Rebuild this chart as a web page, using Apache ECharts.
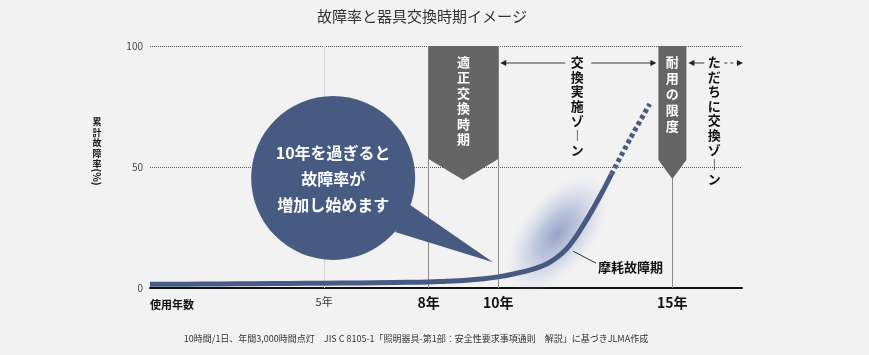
<!DOCTYPE html>
<html><head><meta charset="utf-8">
<script src="https://cdn.jsdelivr.net/npm/echarts@6/dist/echarts.min.js"></script>
<style>html,body{margin:0;padding:0;background:#f2f2f2}#c{width:869px;height:355px}</style>
</head><body><div id="c"></div>
<script>
// ---- data ----
const years = [0, 1, 2, 3, 4, 5, 6, 7, 8, 8.5, 9, 9.5, 10, 10.5, 11, 11.5, 12, 12.5, 13, 13.25];
const failureRate = [1.5, 1.6, 1.7, 1.8, 1.9, 2.0, 2.1, 2.3, 2.5, 2.8, 3.1, 3.7, 4.6, 6.0, 7.8, 10.8, 16.8, 27.3, 40, 47];
const projYears = [13.25, 13.8, 14.35];
const projRate = [47, 62, 76];
const xTickLabels = { 5: '5年', 8: '8年', 10: '10年', 15: '15年' };
const boldTicks = [8, 10, 15];
const guideYears = [5, 8, 10, 15];
const yTicks = [0, 50, 100];
const titleText = '故障率と器具交換時期イメージ';
const yName = ['累', '計', '故', '障', '率'];
const yUnit = '(%)';
const xName = '使用年数';
const bubbleLines = ['10年を過ぎると', '故障率が', '増加し始めます'];
const banner1Text = '適正交換時期';
const banner2Text = '耐用の限度';
const zone1Text = ['交', '換', '実', '施', 'ゾ', '︱', 'ン'];
const zone2Text = ['た', 'だ', 'ち', 'に', '交', '換', 'ゾ', '︱', 'ン'];
const wearText = '摩耗故障期';
const footText = '10時間/1日、年間3,000時間点灯　JIS C 8105-1「照明器具-第1部：安全性要求事項通則　解説」に基づきJLMA作成';

const FONT = '"Noto Sans CJK JP", "Noto Sans", sans-serif';
const LINE = '#465a85';

const chart = echarts.init(document.getElementById('c'));
const option = {
  backgroundColor: '#f2f2f2',
  animation: false,
  textStyle: { fontFamily: FONT },
  title: {
    text: titleText, left: 417, top: 4, textAlign: 'center',
    textStyle: { fontSize: 15, fontWeight: 'normal', color: '#333', fontFamily: FONT }
  },
  grid: { left: 150, right: 127, top: 46, bottom: 67 },
  xAxis: {
    type: 'value', min: 0, max: 17, interval: 1,
    axisLine: { lineStyle: { color: '#111', width: 2 } },
    axisTick: { show: false },
    splitLine: { show: false },
    axisLabel: {
      margin: 8,
      formatter: v => xTickLabels[v] ? (boldTicks.includes(v) ? '{b|' + xTickLabels[v] + '}' : '{n|' + xTickLabels[v] + '}') : '',
      rich: {
        n: { fontSize: 11, color: '#333', fontFamily: FONT },
        b: { fontSize: 14, fontWeight: 'bold', color: '#111', fontFamily: FONT }
      }
    }
  },
  yAxis: {
    type: 'value', min: yTicks[0], max: yTicks[yTicks.length - 1], interval: 50,
    axisLine: { show: false }, axisTick: { show: false },
    splitLine: { lineStyle: { type: 'dotted', color: '#555', width: 1 } },
    axisLabel: { fontSize: 10, color: '#444', margin: 7, fontFamily: FONT }
  },
  series: [
    {
      type: 'line', z: 1, data: [], silent: true,
      markLine: {
        silent: true, symbol: 'none', label: { show: false },
        data: guideYears.map(y => ({ xAxis: y, lineStyle: { color: y === 5 ? '#d6d6d6' : '#8a8a8a', width: 1, type: 'solid' } }))
      }
    },
    {
      type: 'line', z: 5, smooth: 0.4, symbol: 'none',
      lineStyle: { color: LINE, width: 5, cap: 'butt' },
      data: years.map((x, i) => [x, failureRate[i]])
    },
    {
      type: 'line', z: 5, smooth: 0.3, symbol: 'none',
      lineStyle: { color: LINE, width: 5, type: [4, 3], cap: 'butt' },
      data: projYears.map((x, i) => [x, projRate[i]])
    }
  ]
};
chart.setOption(option);

const P = (x, y) => chart.convertToPixel({ gridIndex: 0 }, [x, y]);
const [x0, y0] = P(0, 0);
const [x8, yTop] = P(8, 100);
const [x10] = P(10, 0);
const [x15] = P(15, 0);
const [xEnd] = P(17, 0);

function vText(chars, x, yFirst, step, fill, size, weight, z) {
  return {
    type: 'text', z: z, x: x, y: yFirst - step / 2,
    style: {
      text: chars.join('\n'), fill: fill, align: 'center', verticalAlign: 'top',
      lineHeight: step, fontSize: size, fontWeight: weight, fontFamily: FONT
    }
  };
}
function arrowHead(x, y, dir, z) {
  return { type: 'polygon', z: z, shape: { points: [[x, y], [x - dir * 6, y - 3], [x - dir * 6, y + 3]] }, style: { fill: '#222' } };
}

const g = [];
// wear-out glow
const [gx, gy] = P(11.7, 22.5);
g.push({
  type: 'circle', z: 3, x: gx, y: gy, scaleX: 1.9, scaleY: 1, rotation: 52 * Math.PI / 180,
  shape: { cx: 0, cy: 0, r: 37 },
  style: {
    fill: { type: 'radial', x: 0.5, y: 0.5, r: 0.5, colorStops: [
      { offset: 0, color: 'rgba(92,112,172,0.6)' },
      { offset: 0.4, color: 'rgba(115,135,190,0.42)' },
      { offset: 0.75, color: 'rgba(160,175,218,0.2)' },
      { offset: 1, color: 'rgba(205,213,236,0)' }
    ] }
  }
});
// banner 1 (8-10 years)
const b1Shoulder = yTop + 113, b1Point = yTop + 134;
g.push({ type: 'polygon', z: 10, shape: { points: [[x8, yTop], [x10, yTop], [x10, b1Shoulder], [(x8 + x10) / 2, b1Point], [x8, b1Shoulder]] }, style: { fill: '#656565' } });
g.push(vText(banner1Text.split(''), (x8 + x10) / 2, yTop + 16, 15.5, '#fff', 13, 'bold', 11));
// banner 2 (15 years)
const b2L = x15 - 14, b2R = x15 + 14;
g.push({ type: 'polygon', z: 10, shape: { points: [[b2L, yTop], [b2R, yTop], [b2R, yTop + 114], [x15, yTop + 133], [b2L, yTop + 114]] }, style: { fill: '#656565' } });
g.push(vText(banner2Text.split(''), x15, yTop + 16, 16, '#fff', 13, 'bold', 11));
// zone 1 arrows/text
const ay = yTop + 17;
const zc = (x10 + b2L) / 2 - 1;
g.push({ type: 'line', z: 10, shape: { x1: x10 + 4, y1: ay, x2: zc - 12, y2: ay }, style: { stroke: '#777', lineWidth: 1.5 } });
g.push({ type: 'line', z: 10, shape: { x1: zc + 14, y1: ay, x2: b2L - 5, y2: ay }, style: { stroke: '#777', lineWidth: 1.5 } });
g.push(arrowHead(x10 + 2, ay, -1, 11));
g.push(arrowHead(b2L - 2, ay, 1, 11));
g.push(vText(zone1Text, zc, yTop + 16, 14.7, '#111', 13, 'bold', 11));
// zone 2
const z2c = b2R + 28;
g.push({ type: 'line', z: 10, shape: { x1: b2R + 4, y1: ay, x2: z2c - 10, y2: ay }, style: { stroke: '#777', lineWidth: 1.5 } });
g.push(arrowHead(b2R + 2, ay, -1, 11));
g.push({ type: 'line', z: 10, shape: { x1: z2c + 10, y1: ay, x2: xEnd - 2, y2: ay }, style: { stroke: '#777', lineWidth: 1.5, lineDash: [3, 3] } });
g.push(arrowHead(xEnd + 1, ay, 1, 11));
g.push(vText(zone2Text, z2c, yTop + 16, 14.6, '#111', 13, 'bold', 11));
// speech bubble
const [cx, cy] = P(5.26, 45.5);
const [tx, ty] = P(9.85, 10.6);
g.push({ type: 'polygon', z: 12, shape: { points: [[cx + 77, cy + 27], [tx, ty], [cx + 62, cy + 54]] }, style: { fill: '#465a82' } });
g.push({ type: 'circle', z: 12, shape: { cx: cx, cy: cy, r: 82 }, style: { fill: '#465a82' } });
g.push({
  type: 'text', z: 13, x: cx, y: cy + 1,
  style: { text: bubbleLines.join('\n'), fill: '#fff', align: 'center', verticalAlign: 'middle', lineHeight: 26, fontSize: 16, fontWeight: 'bold', fontFamily: FONT }
});
// wear-out label
const [lx1, ly1] = P(12.15, 15.2);
g.push({ type: 'line', z: 11, shape: { x1: lx1, y1: ly1, x2: lx1 + 23, y2: ly1 + 12 }, style: { stroke: '#333', lineWidth: 1 } });
g.push({ type: 'text', z: 11, x: lx1 + 25, y: ly1 + 16, style: { text: wearText, fill: '#111', align: 'left', verticalAlign: 'middle', fontSize: 13, fontWeight: 'bold', fontFamily: FONT } });
// x name
g.push({ type: 'text', z: 11, x: x0, y: y0 + 17, style: { text: xName, fill: '#111', align: 'left', verticalAlign: 'middle', fontSize: 11, fontWeight: 'bold', fontFamily: FONT } });
// y name
g.push(vText(yName, 97, 122, 10.5, '#111', 9, 'bold', 11));
g.push({ type: 'text', z: 11, x: 97, y: 177, rotation: -Math.PI / 2, style: { text: yUnit, fill: '#111', align: 'center', verticalAlign: 'middle', fontSize: 10, fontWeight: 'bold', fontFamily: FONT } });
// footnote
g.push({ type: 'text', z: 11, x: 416, y: 339, style: { text: footText, fill: '#333', align: 'center', verticalAlign: 'middle', fontSize: 9, fontFamily: FONT } });

chart.setOption({ graphic: { elements: g } });
</script>
</body></html>
